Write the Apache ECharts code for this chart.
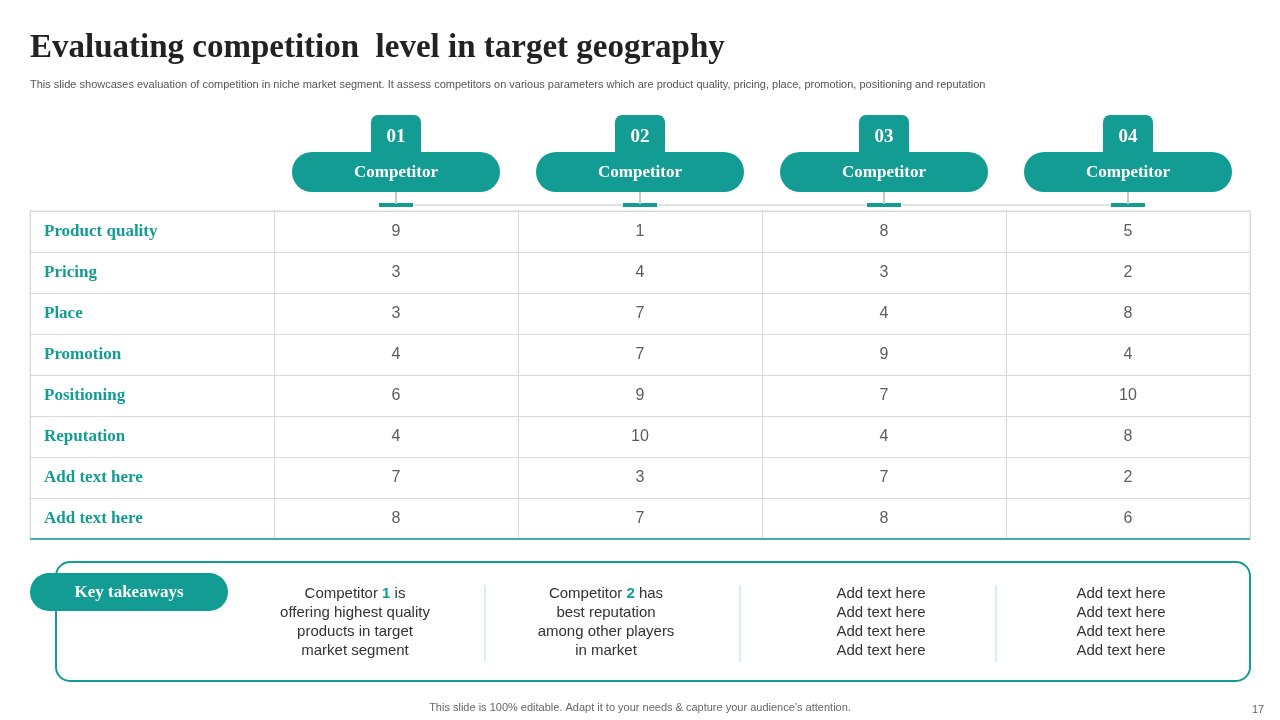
<!DOCTYPE html>
<html><head><meta charset="utf-8">
<script src="https://cdn.jsdelivr.net/npm/echarts@6/dist/echarts.min.js"></script>
<style>html,body{margin:0;padding:0;background:#fff}#c{width:1280px;height:720px}</style>
</head><body><div id="c"></div>
<script>
const competitors = ['01','02','03','04'];
const params = ['Product quality','Pricing','Place','Promotion','Positioning','Reputation','Add text here','Add text here'];
const comp1 = [9,3,3,4,6,4,7,8];
const comp2 = [1,4,7,7,9,10,3,7];
const comp3 = [8,3,4,9,7,4,7,8];
const comp4 = [5,2,8,4,10,8,2,6];
const takeaways = [
  ['Competitor {b|1} is','offering highest quality','products in target','market segment'],
  ['Competitor {b|2} has','best reputation','among other players','in market'],
  ['Add text here','Add text here','Add text here','Add text here'],
  ['Add text here','Add text here','Add text here','Add text here']
];
const TEAL = '#129c94';
const rowIdx = params.map((p,i)=>String(i));
const cols = [comp1,comp2,comp3,comp4];
const data = [];
cols.forEach((c,ci)=>c.forEach((v,ri)=>data.push([ci,String(ri),v])));

const chart = echarts.init(document.getElementById('c'));
const serif = '"Liberation Serif","DejaVu Serif",serif';
const sans = '"Liberation Sans",Arial,sans-serif';
const split = {show:true,lineStyle:{color:'#d9d9d9',width:1}};
chart.setOption({
  animation:false,
  grid:[
    {left:274,right:30,top:211,bottom:181,show:false},
    {left:30,width:244,top:211,bottom:181,show:false}
  ],
  xAxis:[
    {gridIndex:0,type:'category',data:competitors,position:'top',axisLine:{show:false},axisTick:{show:false},axisLabel:{show:false},splitLine:split},
    {gridIndex:1,type:'category',data:['p'],axisLine:{show:false},axisTick:{show:false},axisLabel:{show:false},splitLine:split}
  ],
  yAxis:[
    {gridIndex:0,type:'category',data:rowIdx,inverse:true,axisLine:{show:false},axisTick:{show:false},axisLabel:{show:false},splitLine:split},
    {gridIndex:1,type:'category',data:rowIdx,inverse:true,axisLine:{show:false},axisTick:{show:false},splitLine:split,
     axisLabel:{inside:true,margin:14,formatter:(v)=>params[+v],color:TEAL,fontFamily:serif,fontWeight:'bold',fontSize:17}}
  ],
  series:[{
    type:'scatter',xAxisIndex:0,yAxisIndex:0,symbolSize:1,itemStyle:{color:'rgba(0,0,0,0)'},
    data:data,
    label:{show:true,position:'inside',formatter:(p)=>p.value[2],color:'#333',fontFamily:sans,fontSize:16}
  }]
});

const g = [];
// table borders
g.push({type:'rect',shape:{x:30,y:211,width:1220,height:328},style:{fill:'none',stroke:'#d9d9d9',lineWidth:1}});
g.push({type:'line',shape:{x1:30,y1:539,x2:1250,y2:539},style:{stroke:TEAL,lineWidth:1.5}});
g.push({type:'line',shape:{x1:396,y1:205,x2:1128,y2:205},style:{stroke:'#c8c8c8',lineWidth:1}});
competitors.forEach((c,i)=>{
  const cx = chart.convertToPixel({xAxisIndex:0},c);
  g.push({type:'rect',shape:{x:cx-25,y:115,width:50,height:44,r:[7,7,0,0]},style:{fill:TEAL}});
  g.push({type:'text',x:cx,y:137,style:{text:c,fill:'#fff',font:'bold 19px '+serif,align:'center',verticalAlign:'middle'}});
  g.push({type:'rect',shape:{x:cx-104,y:152,width:208,height:40,r:20},style:{fill:TEAL}});
  g.push({type:'text',x:cx,y:173,style:{text:'Competitor',fill:'#fff',font:'bold 17px '+serif,align:'center',verticalAlign:'middle'}});
  g.push({type:'rect',shape:{x:cx-17,y:203,width:34,height:4},style:{fill:TEAL}});
  g.push({type:'rect',shape:{x:cx-1,y:192,width:2,height:12},style:{fill:'#c8c8c8'}});
});
// takeaways
g.push({type:'rect',shape:{x:56,y:562,width:1194,height:119,r:14},style:{fill:'#fff',stroke:TEAL,lineWidth:2}});
g.push({type:'rect',shape:{x:30,y:573,width:198,height:38,r:19},style:{fill:TEAL}});
g.push({type:'text',x:129,y:593,style:{text:'Key takeaways',fill:'#fff',font:'bold 17px '+serif,align:'center',verticalAlign:'middle'}});
const tx = [355,606,881,1121];
takeaways.forEach((t,i)=>{
  g.push({type:'text',x:tx[i],y:593,style:{text:t.join('\n'),font:'15px '+sans,fill:'#333',align:'center',verticalAlign:'top',lineHeight:19,
    rich:{b:{fill:TEAL,fontWeight:'bold',fontSize:15,fontFamily:sans}},y:-9}});
});
[485,740,996].forEach(x=>g.push({type:'line',shape:{x1:x,y1:585,x2:x,y2:662},style:{stroke:'#b8dcda',lineWidth:1}}));
// titles
g.push({type:'text',x:30,y:48,style:{text:'Evaluating competition  level in target geography',font:'bold 33px '+serif,fill:'#222',verticalAlign:'middle'}});
g.push({type:'text',x:30,y:85,style:{text:'This slide showcases evaluation of competition in niche market segment. It assess competitors on various parameters which are product quality, pricing, place, promotion, positioning and reputation',font:'11px '+sans,fill:'#555',verticalAlign:'middle'}});
g.push({type:'text',x:640,y:708,style:{text:'This slide is 100% editable. Adapt it to your needs & capture your audience’s attention.',font:'11px '+sans,fill:'#666',align:'center',verticalAlign:'middle'}});
g.push({type:'text',x:1258,y:710,style:{text:'17',font:'11px '+sans,fill:'#666',align:'center',verticalAlign:'middle'}});
chart.setOption({graphic:g});
</script></body></html>
